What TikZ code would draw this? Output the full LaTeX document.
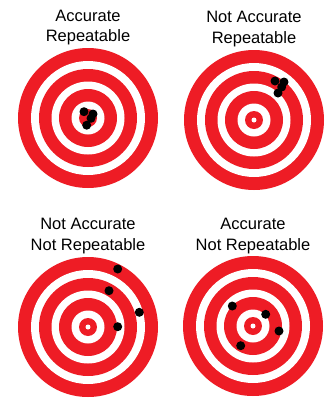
\documentclass[tikz,border=0pt]{standalone}
\usepackage{fontspec}
\setmainfont{Liberation Sans}
\definecolor{tred}{HTML}{EE1C25}
\newcommand\mytarget[3]{%
  \foreach \r/\c in {70/tred,57/white,49/tred,36.5/white,29/tred,16.5/white,9/tred,2.5/#3}
    {\fill[\c] (#1,#2) circle[radius=\r pt];}}
\begin{document}
\begin{tikzpicture}[x=1pt,y=-1pt,
  lbl/.style={anchor=base,inner sep=0pt,font=\fontsize{16.5}{20}\selectfont},
  hit/.style={circle,fill=black,inner sep=0pt,minimum size=9pt}]
\useasboundingbox (0,0) rectangle (325,400);
\fill[white] (0,0) rectangle (325,400);
% targets
\mytarget{88}{118}{tred}
\mytarget{254}{120}{white}
\mytarget{88}{327}{white}
\mytarget{253}{326}{white}
% labels
\node[lbl] (tla) at (88,21) {Accurate};
\node[lbl] (tlb) at (88,41.5) {Repeatable};
\node[lbl] (tra) at (254,22.7) {Not Accurate};
\node[lbl] (trb) at (254,43.3) {Repeatable};
\node[lbl] (bla) at (88,229.3) {Not Accurate};
\node[lbl] (blb) at (88,250) {Not Repeatable};
\node[lbl] (bra) at (253,229.3) {Accurate};
\node[lbl] (brb) at (253,250) {Not Repeatable};
% hits
\node[hit] (a1) at (84,111.7) {};
\node[hit] (a2) at (93,114) {};
\node[hit] (a3) at (91,118.3) {};
\node[hit] (a4) at (86.7,125.2) {};
\node[hit] (b1) at (275,81) {};
\node[hit] (b2) at (284,82) {};
\node[hit] (b3) at (281.7,87) {};
\node[hit] (b4) at (278,93) {};
\node[hit] (c1) at (117.7,269) {};
\node[hit] (c2) at (109,290.7) {};
\node[hit] (c3) at (139.3,312.3) {};
\node[hit] (c4) at (117.7,326.7) {};
\node[hit] (d1) at (232.3,306) {};
\node[hit] (d2) at (265.7,314.3) {};
\node[hit] (d3) at (279,331) {};
\node[hit] (d4) at (240.7,345.7) {};
\end{tikzpicture}
\end{document}
